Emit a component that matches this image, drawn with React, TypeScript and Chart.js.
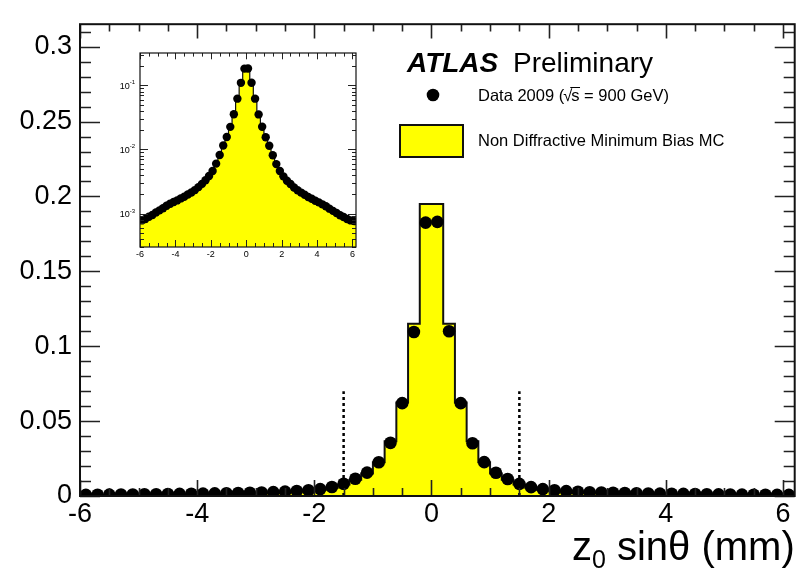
import { useEffect, useRef } from "react";
import { Chart, registerables } from "chart.js";

Chart.register(...registerables);

const FONT = "'Liberation Sans', Arial, Helvetica, sans-serif";

// Histogram binning: 61 bins of 0.2 mm starting at -6 mm
const BIN_LOW = -6;
const BIN_WIDTH = 0.2;

// Data 2009 (900 GeV), normalised entries per bin
const dataValues = [
  0.00078, 0.00082, 0.00089, 0.00095, 0.00104, 0.00112, 0.00121, 0.00132, 0.00142, 0.00151,
  0.0016, 0.00172, 0.00183, 0.00198, 0.00213, 0.00232, 0.00258, 0.0029, 0.0033, 0.00385,
  0.0046, 0.006, 0.0082, 0.0115, 0.0156, 0.0225, 0.0355, 0.062, 0.1095, 0.1825,
  0.183, 0.11, 0.062, 0.0352, 0.0226, 0.0155, 0.0114, 0.0081, 0.0059, 0.0046,
  0.0038, 0.00325, 0.00288, 0.00255, 0.0023, 0.00212, 0.00196, 0.00181, 0.0017, 0.00158,
  0.00149, 0.00139, 0.0013, 0.00119, 0.0011, 0.00102, 0.00094, 0.00088, 0.00082, 0.00078,
  0.00076,
];

// Non diffractive minimum bias MC, same binning
const mcValues = [
  0.0007, 0.00074, 0.0008, 0.00086, 0.00094, 0.00101, 0.00109, 0.00119, 0.00128, 0.00136,
  0.00145, 0.00155, 0.00166, 0.00179, 0.00193, 0.0021, 0.00234, 0.00263, 0.003, 0.0035,
  0.0042, 0.0055, 0.0076, 0.0108, 0.015, 0.0225, 0.0365, 0.0625, 0.115, 0.195,
  0.195, 0.115, 0.0625, 0.0365, 0.0225, 0.015, 0.0108, 0.0076, 0.0055, 0.0042,
  0.0035, 0.003, 0.00263, 0.00234, 0.0021, 0.00193, 0.00179, 0.00166, 0.00155, 0.00145,
  0.00136, 0.00128, 0.00119, 0.00109, 0.00101, 0.00094, 0.00086, 0.0008, 0.00074, 0.0007,
  0.00068,
];

const xTickValues = [-6, -4, -2, 0, 2, 4, 6];
const yTickValues = [0, 0.05, 0.1, 0.15, 0.2, 0.25, 0.3];
const insetDecades = [1e-3, 1e-2, 1e-1];
const insetDecadeLabels = ["-3", "-2", "-1"];

// Selection cut |z0 sinθ| < 1.5 mm
const cutPositions = [-1.5, 1.5];
const cutHeight = 0.07;

const X_MIN = -6;
const X_MAX = 6.2;
const Y_MAX = 0.315;
const INSET_Y_MIN = 3.2e-4;
const INSET_Y_MAX = 0.32;

const binCenters = dataValues.map((_, i) => BIN_LOW + BIN_WIDTH * (i + 0.5));

function histogramOutline(values: number[]) {
  const pts: { x: number; y: number }[] = [];
  values.forEach((v, i) => {
    const lo = BIN_LOW + BIN_WIDTH * i;
    pts.push({ x: lo, y: v }, { x: lo + BIN_WIDTH, y: v });
  });
  return pts;
}

const dataPoints = binCenters.map((x, i) => ({ x, y: dataValues[i] }));

type TickSpec = { step: number; len: number }[];

function drawFrameAndTicks(
  chart: any,
  xSpecs: TickSpec,
  yTicks: { v: number; len: number }[],
  lineW: number,
  frameW: number
) {
  const { ctx, chartArea: a, scales } = chart;
  const xs = scales.x;
  const ys = scales.y;
  ctx.save();
  ctx.strokeStyle = "#222";
  ctx.lineWidth = lineW;
  ctx.beginPath();
  for (const spec of xSpecs) {
    const start = Math.ceil(xs.min / spec.step - 1e-9) * spec.step;
    for (let v = start; v <= xs.max + 1e-9; v += spec.step) {
      const px = Math.round(xs.getPixelForValue(v)) + 0.5;
      ctx.moveTo(px, a.bottom);
      ctx.lineTo(px, a.bottom - spec.len);
      ctx.moveTo(px, a.top);
      ctx.lineTo(px, a.top + spec.len * 0.9);
    }
  }
  for (const t of yTicks) {
    const py = Math.round(ys.getPixelForValue(t.v)) + 0.5;
    if (py < a.top - 0.5 || py > a.bottom + 0.5) continue;
    ctx.moveTo(a.left, py);
    ctx.lineTo(a.left + t.len, py);
    ctx.moveTo(a.right, py);
    ctx.lineTo(a.right - t.len, py);
  }
  ctx.stroke();
  ctx.lineWidth = frameW;
  ctx.strokeStyle = "#111";
  ctx.strokeRect(a.left, a.top, a.right - a.left, a.bottom - a.top);
  ctx.restore();
}

const mainDecorations = {
  id: "mainDecorations",
  afterDraw(chart: any) {
    const yTicks: { v: number; len: number }[] = [];
    for (let i = 0; i <= 31; i++) {
      const v = i * 0.01;
      yTicks.push({ v, len: i % 5 === 0 ? 20 : 11 });
    }
    drawFrameAndTicks(
      chart,
      [
        { step: 2, len: 16 },
        { step: 0.5, len: 8 },
      ],
      yTicks,
      1.6,
      2
    );

    const { ctx } = chart;
    ctx.save();
    ctx.fillStyle = "#000";
    ctx.textBaseline = "alphabetic";

    // Experiment label
    ctx.font = `italic bold 28px ${FONT}`;
    ctx.fillText("ATLAS", 407, 72);
    ctx.font = `28px ${FONT}`;
    ctx.fillText("Preliminary", 513, 72);

    // Legend: data marker
    ctx.beginPath();
    ctx.arc(433, 95, 6.3, 0, Math.PI * 2);
    ctx.fill();
    ctx.font = `16.5px ${FONT}`;
    ctx.textBaseline = "middle";
    let x = 478;
    const part1 = "Data 2009 (";
    ctx.fillText(part1, x, 96);
    x += ctx.measureText(part1).width;
    ctx.fillText("\u221A", x - 1, 96);
    x += ctx.measureText("\u221A").width - 2;
    const sW = ctx.measureText("s").width;
    ctx.fillText("s", x, 96);
    ctx.lineWidth = 1;
    ctx.beginPath();
    ctx.moveTo(x - 1, 87.5);
    ctx.lineTo(x + sW + 0.5, 87.5);
    ctx.stroke();
    x += sW;
    ctx.fillText(" = 900 GeV)", x, 96);

    // Legend: MC box
    ctx.fillStyle = "#ffff00";
    ctx.fillRect(400, 125, 63, 32);
    ctx.strokeStyle = "#111";
    ctx.lineWidth = 2;
    ctx.strokeRect(400, 125, 63, 32);
    ctx.fillStyle = "#000";
    ctx.fillText("Non Diffractive Minimum Bias MC", 478, 141);

    // Axis title with subscript, right-aligned to the frame
    ctx.textBaseline = "alphabetic";
    const big = `40px ${FONT}`;
    const small = `25px ${FONT}`;
    ctx.font = big;
    const wz = ctx.measureText("z").width;
    const rest = " sin\u03B8 (mm)";
    const wr = ctx.measureText(rest).width;
    ctx.font = small;
    const w0 = ctx.measureText("0").width;
    const right = chart.chartArea.right;
    let tx = right - (wz + w0 + wr);
    const base = 560;
    ctx.font = big;
    ctx.fillText("z", tx, base);
    tx += wz;
    ctx.font = small;
    ctx.fillText("0", tx, base + 8);
    tx += w0;
    ctx.font = big;
    ctx.fillText(rest, tx, base);
    ctx.restore();
  },
};

const insetDecorations = {
  id: "insetDecorations",
  beforeDraw(chart: any) {
    const { ctx, chartArea: a } = chart;
    ctx.save();
    ctx.fillStyle = "#fff";
    ctx.fillRect(a.left, a.top, a.right - a.left, a.bottom - a.top);
    ctx.restore();
  },
  afterDraw(chart: any) {
    const yTicks: { v: number; len: number }[] = [];
    for (const d of [1e-4, 1e-3, 1e-2, 1e-1]) {
      for (let m = 1; m <= 9; m++) yTicks.push({ v: m * d, len: m === 1 ? 8 : 4 });
    }
    drawFrameAndTicks(
      chart,
      [
        { step: 2, len: 7 },
        { step: 0.5, len: 4 },
      ],
      yTicks,
      1,
      1.2
    );
    const { ctx, chartArea: a, scales } = chart;
    ctx.save();
    ctx.fillStyle = "#000";
    ctx.textBaseline = "alphabetic";
    insetDecades.forEach((d, i) => {
      const py = scales.y.getPixelForValue(d);
      ctx.font = `6px ${FONT}`;
      const ws = ctx.measureText(insetDecadeLabels[i]).width;
      ctx.font = `9px ${FONT}`;
      const wb = ctx.measureText("10").width;
      const xr = a.left - 5;
      ctx.fillText("10", xr - ws - wb, py + 3.5);
      ctx.font = `6px ${FONT}`;
      ctx.fillText(insetDecadeLabels[i], xr - ws, py - 1);
    });
    ctx.restore();
  },
};

export default function App() {
  const mainRef = useRef<HTMLCanvasElement | null>(null);
  const insetRef = useRef<HTMLCanvasElement | null>(null);

  useEffect(() => {
    if (!mainRef.current || !insetRef.current) return;

    const main = new Chart(mainRef.current, {
      type: "scatter",
      data: {
        datasets: [
          {
            label: "Data 2009",
            data: dataPoints,
            pointRadius: 6.3,
            pointBackgroundColor: "#000",
            pointBorderWidth: 0,
            showLine: false,
          } as any,
          ...cutPositions.map((c) => ({
            label: "cut",
            data: [
              { x: c, y: 0 },
              { x: c, y: cutHeight },
            ],
            showLine: true,
            borderColor: "#000",
            borderWidth: 2.5,
            borderDash: [3, 3],
            pointRadius: 0,
          })),
          {
            label: "Non Diffractive Minimum Bias MC",
            data: histogramOutline(mcValues),
            showLine: true,
            fill: "origin",
            backgroundColor: "#ffff00",
            borderColor: "#111",
            borderWidth: 2,
            pointRadius: 0,
            tension: 0,
          } as any,
        ],
      },
      options: {
        responsive: false,
        animation: false,
        layout: { padding: { top: 9, right: 6, left: 0, bottom: 0 } },
        plugins: { legend: { display: false }, tooltip: { enabled: false } },
        scales: {
          x: {
            type: "linear",
            min: X_MIN,
            max: X_MAX,
            grid: { display: false, drawTicks: false },
            border: { display: false },
            afterBuildTicks: (s: any) => {
              s.ticks = xTickValues.map((v) => ({ value: v }));
            },
            afterFit: (s: any) => {
              s.height = 74;
            },
            ticks: {
              color: "#000",
              font: { family: FONT, size: 27 },
              padding: 2,
              autoSkip: false,
              maxRotation: 0,
              callback: (v: any) => String(v),
            },
          },
          y: {
            type: "linear",
            min: 0,
            max: Y_MAX,
            grid: { display: false, drawTicks: false },
            border: { display: false },
            afterBuildTicks: (s: any) => {
              s.ticks = yTickValues.map((v) => ({ value: v }));
            },
            afterFit: (s: any) => {
              s.width = 80;
            },
            ticks: {
              color: "#000",
              font: { family: FONT, size: 27 },
              padding: 8,
              callback: (v: any) => String(+Number(v).toFixed(2)),
            },
          },
        },
      },
      plugins: [mainDecorations],
    });

    const inset = new Chart(insetRef.current, {
      type: "scatter",
      data: {
        datasets: [
          {
            label: "Data 2009",
            data: dataPoints,
            pointRadius: 4.2,
            pointBackgroundColor: "#000",
            pointBorderWidth: 0,
            showLine: false,
          } as any,
          {
            label: "MC",
            data: histogramOutline(mcValues),
            showLine: true,
            fill: "start",
            backgroundColor: "#ffff00",
            borderColor: "#111",
            borderWidth: 1.2,
            pointRadius: 0,
            tension: 0,
          } as any,
        ],
      },
      options: {
        responsive: false,
        animation: false,
        layout: { padding: { top: 13, right: 14, left: 0, bottom: 0 } },
        plugins: { legend: { display: false }, tooltip: { enabled: false } },
        scales: {
          x: {
            type: "linear",
            min: X_MIN,
            max: X_MAX,
            grid: { display: false, drawTicks: false },
            border: { display: false },
            afterBuildTicks: (s: any) => {
              s.ticks = xTickValues.map((v) => ({ value: v }));
            },
            afterFit: (s: any) => {
              s.height = 23;
            },
            ticks: {
              color: "#000",
              font: { family: FONT, size: 9 },
              padding: 2,
              autoSkip: false,
              maxRotation: 0,
              callback: (v: any) => String(v),
            },
          },
          y: {
            type: "logarithmic",
            min: INSET_Y_MIN,
            max: INSET_Y_MAX,
            grid: { display: false, drawTicks: false },
            border: { display: false },
            ticks: { display: false },
            afterFit: (s: any) => {
              s.width = 40;
            },
          },
        },
      },
      plugins: [insetDecorations],
    });

    return () => {
      main.destroy();
      inset.destroy();
    };
  }, []);

  return (
    <div style={{ position: "fixed", left: 0, top: 0, width: 801, height: 570, background: "#fff" }}>
      <canvas ref={mainRef} width={801} height={570} style={{ position: "absolute", left: 0, top: 0 }} />
      <canvas ref={insetRef} width={270} height={230} style={{ position: "absolute", left: 100, top: 40 }} />
    </div>
  );
}
